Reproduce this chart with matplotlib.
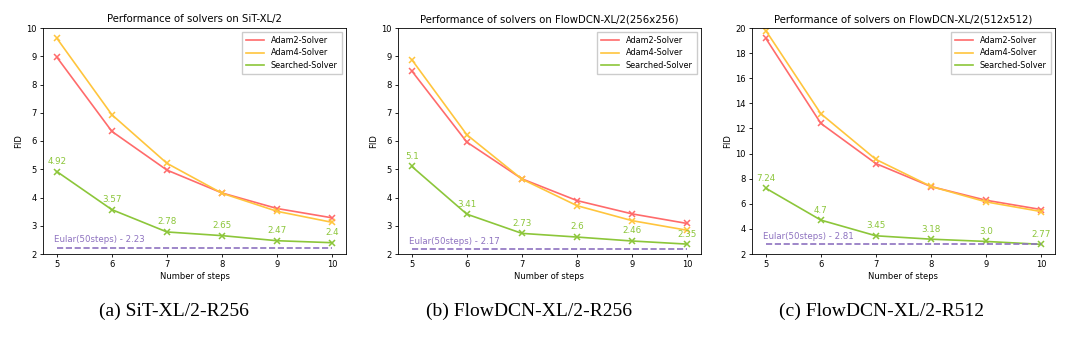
import matplotlib.pyplot as plt
from matplotlib.lines import Line2D

steps = [5, 6, 7, 8, 9, 10]

# SiT-XL/2, 256x256
sit_adam2 = [8.97, 6.34, 4.97, 4.16, 3.61, 3.28]
sit_adam4 = [9.64, 6.93, 5.21, 4.15, 3.51, 3.12]
sit_searched = [4.92, 3.57, 2.78, 2.65, 2.47, 2.4]
sit_euler = 2.23

# FlowDCN-XL/2, 256x256
dcn256_adam2 = [8.48, 5.96, 4.66, 3.89, 3.42, 3.08]
dcn256_adam4 = [8.88, 6.22, 4.65, 3.71, 3.18, 2.84]
dcn256_searched = [5.1, 3.41, 2.73, 2.6, 2.46, 2.35]
dcn256_euler = 2.17

# FlowDCN-XL/2, 512x512
dcn512_adam2 = [19.18, 12.4, 9.2, 7.37, 6.28, 5.54]
dcn512_adam4 = [19.8, 13.17, 9.53, 7.38, 6.15, 5.38]
dcn512_searched = [7.24, 4.7, 3.45, 3.18, 3.0, 2.77]
dcn512_euler = 2.81

titles = ["Performance of solvers on SiT-XL/2",
          "Performance of solvers on FlowDCN-XL/2(256x256)",
          "Performance of solvers on FlowDCN-XL/2(512x512)"]
captions = ["(a) SiT-XL/2-R256", "(b) FlowDCN-XL/2-R256", "(c) FlowDCN-XL/2-R512"]
names = ["Adam2-Solver", "Adam4-Solver", "Searched-Solver"]

RED = "#ff6b6b"
YELLOW = "#ffc53d"
GREEN = "#8cc63a"
PURPLE = "#8e72c0"

panels = [
    (sit_adam2, sit_adam4, sit_searched, sit_euler, 10, 1),
    (dcn256_adam2, dcn256_adam4, dcn256_searched, dcn256_euler, 10, 1),
    (dcn512_adam2, dcn512_adam4, dcn512_searched, dcn512_euler, 20, 2),
]
lefts = [43, 398, 752]
caption_x = [174, 529, 882]

W, H = 1080, 338
fig = plt.figure(figsize=(W / 100, H / 100), dpi=100)

for i, (a2, a4, se, eu, ymax, ystep) in enumerate(panels):
    ax = fig.add_axes([lefts[i] / W, 1 - 254 / H, 303 / W, 226 / H])
    for ys, c in zip([a2, a4, se], [RED, YELLOW, GREEN]):
        ax.plot(steps, ys, color=c, marker="x", ms=4.5, mew=1.1, lw=1.2)
    ax.hlines(eu, 5, 10, colors=PURPLE, linestyles="--", lw=1.2)
    ax.text(4.95, eu + (0.18 if ymax == 10 else 0.35), "Eular(50steps) - %s" % eu,
            color=PURPLE, fontsize=6.2)
    for x, v in zip(steps, se):
        ax.annotate(str(v), (x, v), xytext=(0, 4), textcoords="offset points",
                    ha="center", va="bottom", color=GREEN, fontsize=6.3)
    ax.set_ylim(2, ymax)
    ax.set_yticks(range(2, ymax + 1, ystep))
    ax.set_xticks(steps)
    ax.tick_params(labelsize=6, length=2.5, width=0.6, pad=2)
    for s in ax.spines.values():
        s.set_linewidth(0.6)
    ax.set_xlabel("Number of steps", fontsize=6, labelpad=2)
    ax.set_ylabel("FID", fontsize=6, labelpad=2)
    ax.set_title(titles[i], fontsize=7.3, pad=4)
    handles = [Line2D([], [], color=c, lw=1.2) for c in [RED, YELLOW, GREEN]]
    ax.legend(handles, names, loc="upper right", fontsize=5.9, handlelength=2.2,
              borderpad=0.5, labelspacing=0.4, framealpha=1, edgecolor="#cccccc",
              fancybox=False)
    fig.text(caption_x[i] / W, 1 - 311 / H, captions[i], ha="center", va="center",
             family="Liberation Serif", fontsize=14)

fig.savefig("out.png", dpi=100, facecolor="white")
